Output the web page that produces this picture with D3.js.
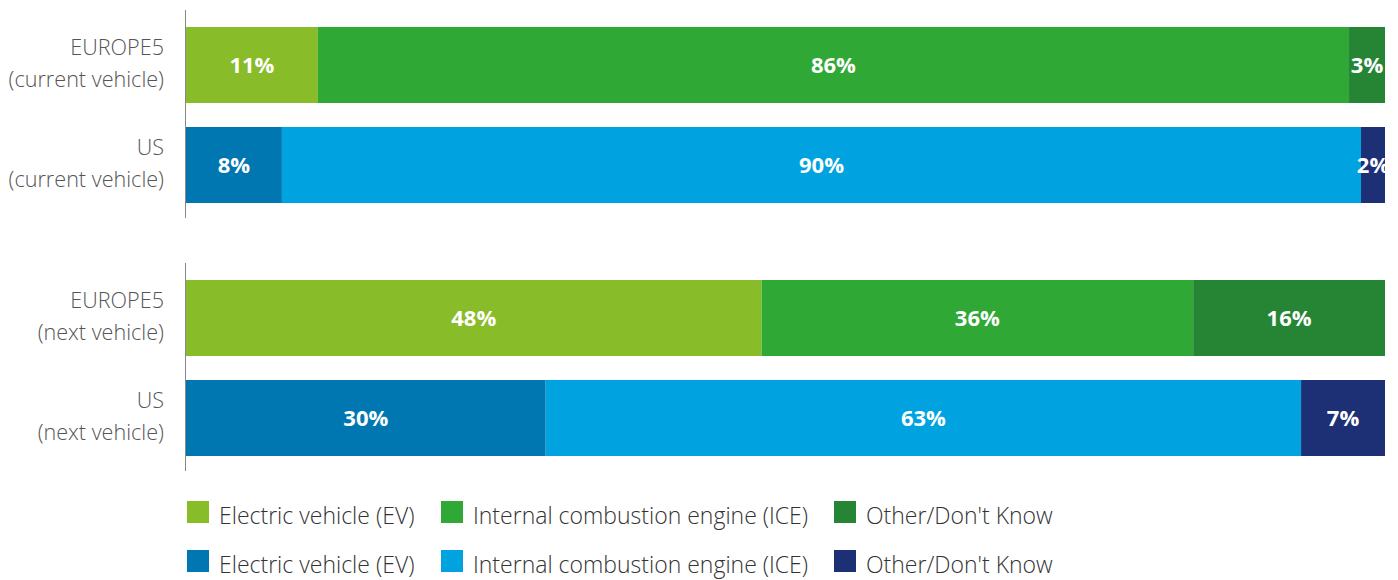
<!DOCTYPE html>
<html>
<head>
<meta charset="utf-8">
<script src="https://cdn.jsdelivr.net/npm/d3@7"></script>
<style>
  html, body { margin: 0; padding: 0; background: #fff; }
  svg { display: block; font-family: "Open Sans", sans-serif; }
</style>
</head>
<body>
<svg id="chart" width="1398" height="580"></svg>
<script>
const groups = ["current vehicle", "next vehicle"];
const regions = ["EUROPE5", "US"];
const seriesNames = ["Electric vehicle (EV)", "Internal combustion engine (ICE)", "Other/Don't Know"];
const europeCurrent = [11, 86, 3];
const usCurrent = [8, 90, 2];
const europeNext = [48, 36, 16];
const usNext = [30, 63, 7];
const europeColors = ["#88bc28", "#2fa836", "#268535"];
const usColors = ["#0077b0", "#00a3e0", "#1e3075"];

const rows = [
  { group: groups[0], region: regions[0], values: europeCurrent, colors: europeColors },
  { group: groups[0], region: regions[1], values: usCurrent, colors: usColors },
  { group: groups[1], region: regions[0], values: europeNext, colors: europeColors },
  { group: groups[1], region: regions[1], values: usNext, colors: usColors }
];

const svg = d3.select("#chart");
const x = d3.scaleLinear().domain([0, 100]).range([186, 1385]);
const gy = d3.scaleBand().domain(groups).range([27, 27 + 253 * 2]).padding(0);
const ry = d3.scaleBand().domain(regions).range([0, 176]).paddingInner(0.24).paddingOuter(0);

svg.append("defs").append("clipPath").attr("id", "plotclip")
  .append("rect").attr("x", x(0)).attr("y", 0).attr("width", x(100) - x(0)).attr("height", 580);

// axis lines
groups.forEach(g => {
  svg.append("line")
    .attr("x1", 185.5).attr("x2", 185.5)
    .attr("y1", gy(g) - 17).attr("y2", gy(g) + 191)
    .attr("stroke", "#888").attr("stroke-width", 1);
});

const plot = svg.append("g").attr("clip-path", "url(#plotclip)");

rows.forEach(r => {
  const y0 = gy(r.group) + ry(r.region);
  const h = ry.bandwidth();
  let cum = 0;
  const segs = r.values.map((v, i) => { const s = { start: cum, end: cum + v, v, c: r.colors[i] }; cum += v; return s; });
  const g = plot.append("g");
  g.selectAll("rect").data(segs).join("rect")
    .attr("x", d => x(d.start)).attr("y", y0)
    .attr("width", d => x(d.end) - x(d.start)).attr("height", h)
    .attr("fill", d => d.c);
  g.selectAll("text").data(segs).join("text")
    .attr("x", d => (x(d.start) + x(d.end)) / 2)
    .attr("y", y0 + h / 2 + 8)
    .attr("text-anchor", "middle")
    .attr("fill", "#fff")
    .attr("font-weight", 700)
    .attr("font-size", 22)
    .text(d => d.v + "%");

  // category label
  const lab = svg.append("text")
    .attr("text-anchor", "end")
    .attr("fill", "#555")
    .attr("font-weight", 300)
    .attr("font-size", 21.6);
  lab.append("tspan").attr("x", 164).attr("y", y0 + h / 2 - 10).text(r.region);
  lab.append("tspan").attr("x", 164).attr("y", y0 + h / 2 + 22).text("(" + r.group + ")");
});

// legend
const legendX = [187, 441, 834];
const legendRows = [{ y: 501, colors: europeColors }, { y: 550, colors: usColors }];
legendRows.forEach(lr => {
  seriesNames.forEach((name, i) => {
    svg.append("rect")
      .attr("x", legendX[i]).attr("y", lr.y)
      .attr("width", 22).attr("height", 22)
      .attr("fill", lr.colors[i]);
    svg.append("text")
      .attr("x", legendX[i] + 32).attr("y", lr.y + 23)
      .attr("fill", "#333")
      .attr("font-weight", 300)
      .attr("font-size", 23)
      .text(name);
  });
});
</script>
</body>
</html>
